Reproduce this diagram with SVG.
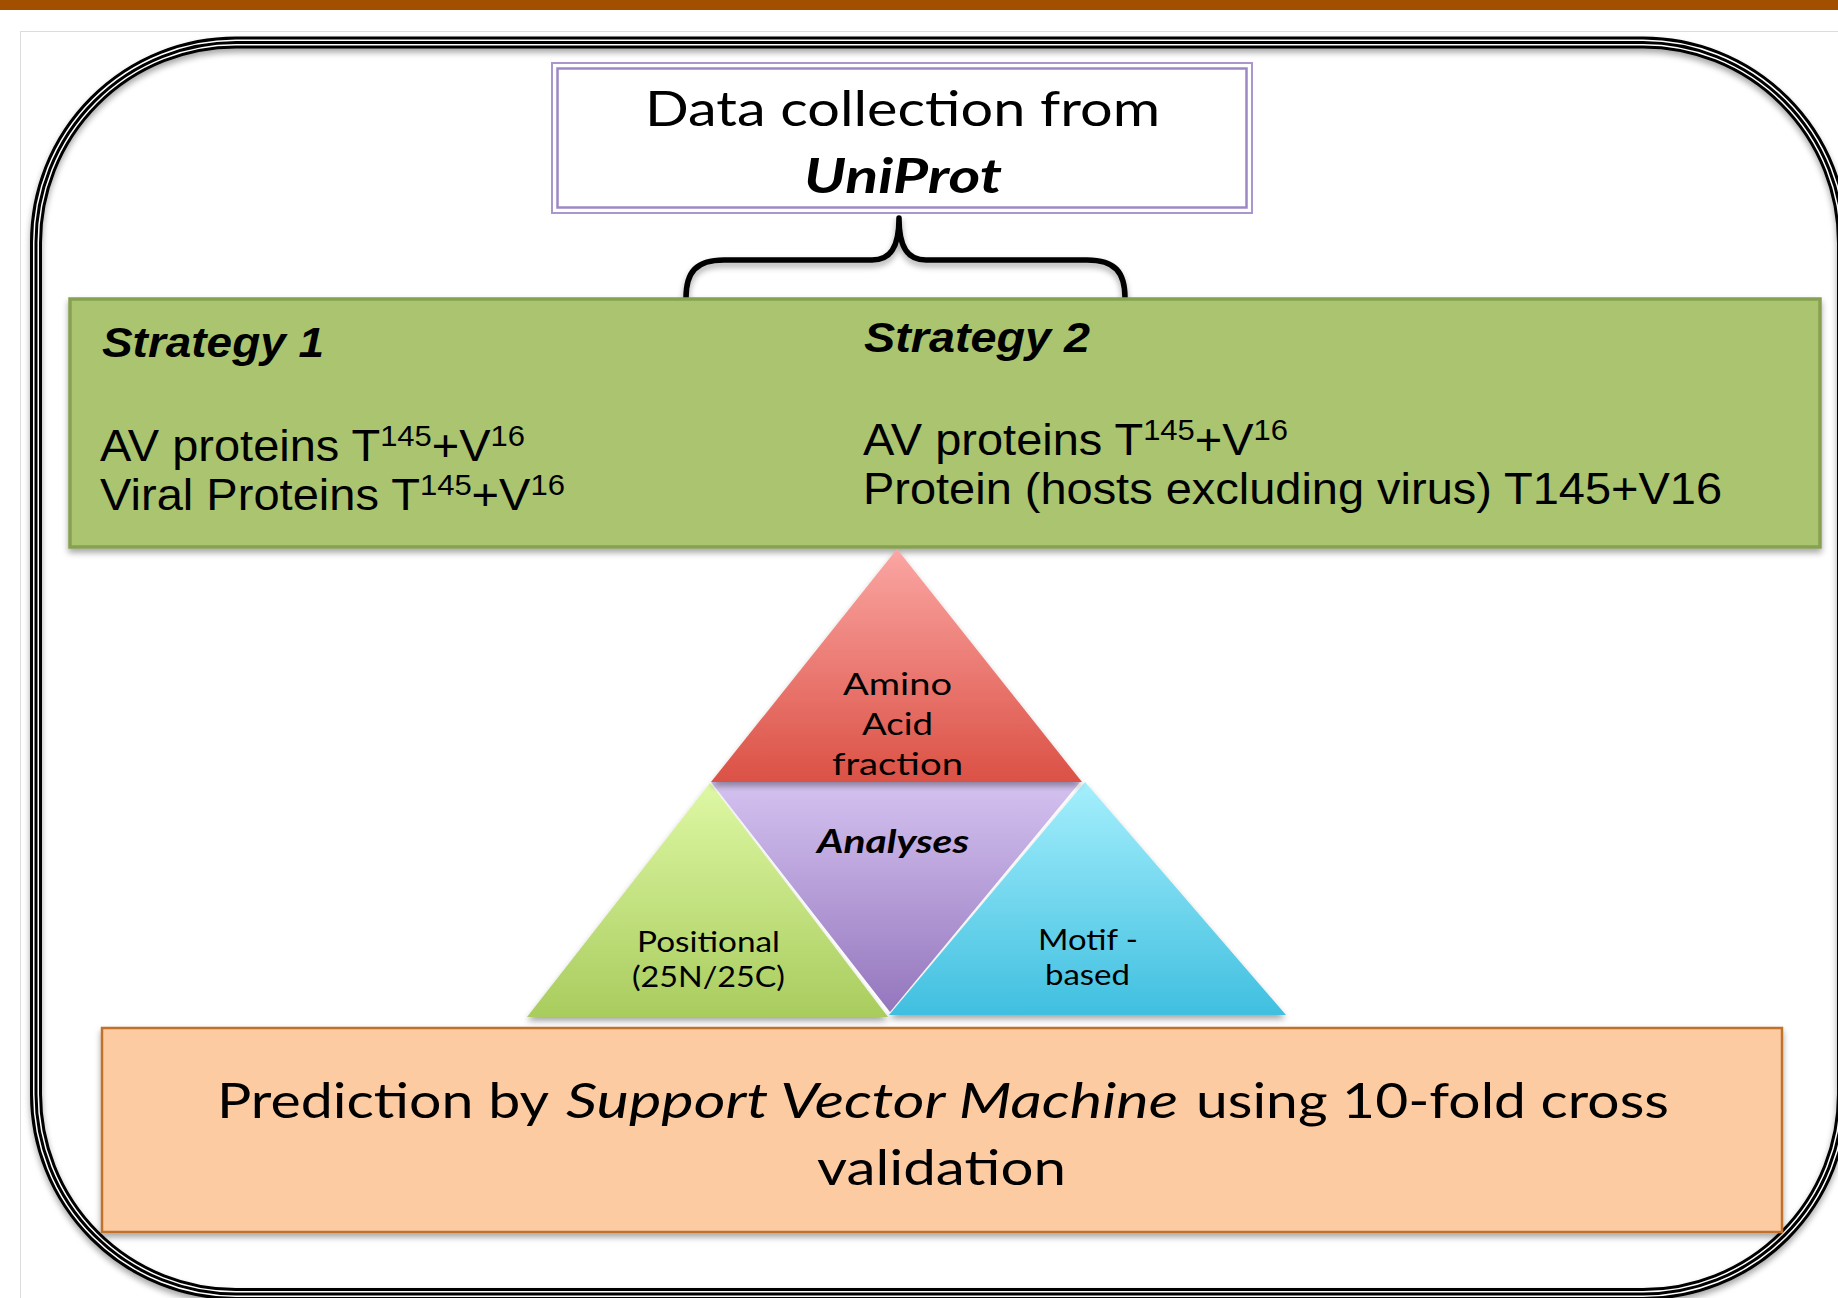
<svg xmlns="http://www.w3.org/2000/svg" width="1838" height="1298" viewBox="0 0 1838 1298">
<defs>
<style>
.arial{font-family:"Liberation Sans",Arial,sans-serif;fill:#000}
.cal{font-family:Lato,"Open Sans","Liberation Sans",sans-serif;fill:#000}
.bi{font-weight:bold;font-style:italic}
.it{font-style:italic}
</style>
<filter id="sh" x="-5%" y="-5%" width="110%" height="115%">
<feGaussianBlur in="SourceAlpha" stdDeviation="3"/>
<feOffset dy="4" result="o"/>
<feComponentTransfer><feFuncA type="linear" slope="0.35"/></feComponentTransfer>
<feMerge><feMergeNode/><feMergeNode in="SourceGraphic"/></feMerge>
</filter>
<linearGradient id="gRed" x1="0" y1="0" x2="0" y2="1"><stop offset="0" stop-color="#FBA6A3"/><stop offset="1" stop-color="#DB5145"/></linearGradient>
<linearGradient id="gPur" x1="0" y1="0" x2="0" y2="1"><stop offset="0" stop-color="#D4C2F0"/><stop offset="1" stop-color="#9476BD"/></linearGradient>
<linearGradient id="gGrn" x1="0" y1="0" x2="0" y2="1"><stop offset="0" stop-color="#DEF8A4"/><stop offset="1" stop-color="#A9CC5E"/></linearGradient>
<linearGradient id="gBlu" x1="0" y1="0" x2="0" y2="1"><stop offset="0" stop-color="#A5EFFC"/><stop offset="1" stop-color="#40BFE0"/></linearGradient>
</defs>
<rect x="0" y="0" width="1838" height="1298" fill="#FFFFFF"/>
<rect x="0" y="0" width="1838" height="10" fill="#A24F00"/>
<rect x="20.5" y="31.5" width="1900" height="1400" fill="none" stroke="#DCDCDC" stroke-width="1"/>

<g id="frame" filter="url(#sh)">
<rect x="36" y="42.5" width="1807" height="1251.5" rx="200" ry="200" fill="none" stroke="#000" stroke-width="12"/>
<rect x="36" y="42.5" width="1807" height="1251.5" rx="200" ry="200" fill="none" stroke="#FFF" stroke-width="6"/>
<rect x="36" y="42.5" width="1807" height="1251.5" rx="200" ry="200" fill="none" stroke="#000" stroke-width="3"/>
</g>

<g id="connectors">
<path filter="url(#sh)" d="M686 298 C686 272 696 260 724 260 L872 260 C890 260 899 248 899 218 C899 248 908 260 926 260 L1087 260 C1115 260 1125 272 1125 298" fill="none" stroke="#000" stroke-width="5.5" stroke-linecap="round" stroke-linejoin="round"/>
</g>

<g id="source">
<rect x="552" y="63" width="700" height="150" fill="#FFF" stroke="#A896CD" stroke-width="2"/>
<rect x="557.5" y="68.5" width="689" height="139" fill="none" stroke="#9C88C5" stroke-width="2.5"/>
<text class="cal" x="645" y="126" font-size="48" textLength="515" lengthAdjust="spacingAndGlyphs">Data collection from</text>
<text class="cal bi" x="804" y="193" font-size="48" textLength="198" lengthAdjust="spacingAndGlyphs">UniProt</text>
</g>

<g id="strategies">
<rect x="70" y="299" width="1750" height="248" fill="#AAC46F" stroke="#87A152" stroke-width="3.5" filter="url(#sh)"/>
<text class="arial bi" x="102" y="357" font-size="43" textLength="222" lengthAdjust="spacingAndGlyphs">Strategy 1</text>
<text class="arial bi" x="864" y="352" font-size="43" textLength="226" lengthAdjust="spacingAndGlyphs">Strategy 2</text>
<text class="arial" x="100" y="461" font-size="44" textLength="425" lengthAdjust="spacingAndGlyphs">AV proteins T<tspan font-size="29" dy="-15">145</tspan><tspan font-size="44" dy="15">+V</tspan><tspan font-size="29" dy="-15">16</tspan></text>
<text class="arial" x="100" y="510" font-size="44" textLength="465" lengthAdjust="spacingAndGlyphs">Viral Proteins T<tspan font-size="29" dy="-15">145</tspan><tspan font-size="44" dy="15">+V</tspan><tspan font-size="29" dy="-15">16</tspan></text>
<text class="arial" x="863" y="455" font-size="44" textLength="425" lengthAdjust="spacingAndGlyphs">AV proteins T<tspan font-size="29" dy="-15">145</tspan><tspan font-size="44" dy="15">+V</tspan><tspan font-size="29" dy="-15">16</tspan></text>
<text class="arial" x="863" y="504" font-size="44" textLength="859" lengthAdjust="spacingAndGlyphs">Protein (hosts excluding virus) T145+V16</text>
</g>

<g id="positional" filter="url(#sh)">
<polygon points="710,783 527,1017 888,1017" fill="url(#gGrn)"/>
</g>
<g id="motif" filter="url(#sh)">
<polygon points="1085,782 889,1015 1286,1015" fill="url(#gBlu)"/>
</g>
<g id="analyses">
<polygon points="711,782 1080,782 890,1012" fill="url(#gPur)"/>
</g>
<g id="amino" filter="url(#sh)">
<polygon points="897,549 711,782 1082,782" fill="url(#gRed)"/>
</g>

<g id="triangle-labels">
<text class="cal" x="843" y="695" font-size="31" textLength="109" lengthAdjust="spacingAndGlyphs">Amino</text>
<text class="cal" x="862" y="735" font-size="31" textLength="71" lengthAdjust="spacingAndGlyphs">Acid</text>
<text class="cal" x="832" y="775" font-size="31" textLength="131" lengthAdjust="spacingAndGlyphs">fraction</text>
<text class="cal bi" x="817" y="853" font-size="33" textLength="152" lengthAdjust="spacingAndGlyphs">Analyses</text>
<text class="cal" x="637" y="952" font-size="29" textLength="143" lengthAdjust="spacingAndGlyphs">Positional</text>
<text class="cal" x="632" y="987" font-size="29" textLength="153" lengthAdjust="spacingAndGlyphs">(25N/25C)</text>
<text class="cal" x="1038" y="950" font-size="29" textLength="100" lengthAdjust="spacingAndGlyphs">Motif -</text>
<text class="cal" x="1045" y="985" font-size="29" textLength="85" lengthAdjust="spacingAndGlyphs">based</text>
</g>

<g id="prediction">
<rect x="102" y="1028" width="1680" height="204" fill="#FCCBA2" stroke="#C0712C" stroke-width="2.5" filter="url(#sh)"/>
<text class="cal" x="217" y="1118" font-size="49" textLength="332" lengthAdjust="spacingAndGlyphs">Prediction by</text>
<text class="cal it" x="566" y="1118" font-size="49" textLength="612" lengthAdjust="spacingAndGlyphs">Support Vector Machine</text>
<text class="cal" x="1196" y="1118" font-size="49" textLength="473" lengthAdjust="spacingAndGlyphs">using 10-fold cross</text>
<text class="cal" x="817" y="1185" font-size="49" textLength="249" lengthAdjust="spacingAndGlyphs">validation</text>
</g>
</svg>
